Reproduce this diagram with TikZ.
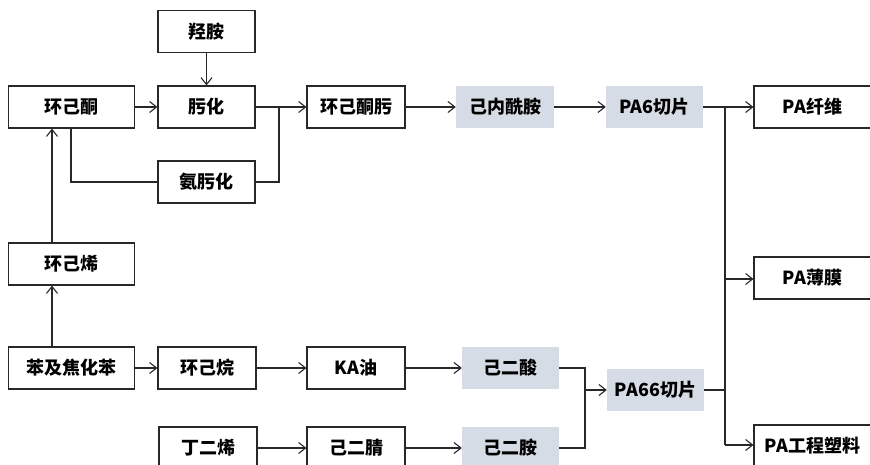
\documentclass[tikz,border=0pt]{standalone}
\usepackage{fontspec}
\newfontfamily\cjk{Noto Sans CJK SC}
\usetikzlibrary{arrows.meta}
\definecolor{boxfill}{RGB}{214,220,229}
\definecolor{linec}{RGB}{40,40,40}
\tikzset{
  bx/.style={draw=linec, line width=1.1pt, minimum height=42pt, minimum width=97pt, inner sep=0pt, font=\cjk\bfseries\fontsize{18}{18}\selectfont},
  fb/.style={fill=boxfill, minimum height=42pt, minimum width=98pt, inner sep=0pt, font=\cjk\bfseries\fontsize{18}{18}\selectfont},
  con/.style={draw=linec, line width=1.1pt},
  arr/.style={con, -{Straight Barb[length=7pt,width=11pt,line width=1.1pt]}}
}
\begin{document}
\begin{tikzpicture}[x=1pt,y=-1pt]
\useasboundingbox (0,0) rectangle (870,465);
\clip (0,0) rectangle (870,465);
\fill[white] (0,0) rectangle (870,465);
% nodes
\node[bx] (qa) at (206.5,31.5) {羟胺};
\node[bx, minimum width=125.5pt] (hjt) at (71.5,107) {环己酮};
\node[bx] (wh) at (206.5,107) {肟化};
\node[bx] (awh) at (206.5,182) {氨肟化};
\node[bx, minimum width=98pt] (hjtw) at (356,107) {环己酮肟};
\node[fb] (jnxa) at (505,107) {己内酰胺};
\node[fb, minimum width=97pt] (pa6) at (654.5,107) {PA6切片};
\node[bx, minimum width=117pt] (paxw) at (812.5,107) {PA纤维};
\node[bx, minimum width=125.5pt] (hjx) at (71.5,264) {环己烯};
\node[bx, minimum width=125.5pt] (ben) at (71.5,368) {苯及焦化苯};
\node[bx, minimum width=98pt] (hjw) at (207,368) {环己烷};
\node[bx, minimum width=98pt] (ka) at (356,368) {KA油};
\node[fb, minimum width=97pt] (jes) at (510.5,368) {己二酸};
\node[bx, minimum width=98pt] (dex) at (208,448) {丁二烯};
\node[bx, minimum width=98pt] (jej) at (356,448) {己二腈};
\node[fb, minimum width=97pt] (jea) at (510.5,448) {己二胺};
\node[fb, minimum width=97pt] (pa66) at (655.5,390) {PA66切片};
\node[bx, minimum width=117pt] (pabm) at (812.5,278) {PA薄膜};
\node[bx, minimum width=117pt] (pagc) at (812.5,446) {PA工程塑料};
% junction coordinates
\coordinate (j1) at (279,107);
\coordinate (j2) at (279,182);
\coordinate (j3) at (71,182);
\coordinate (j4) at (585,368);
\coordinate (j5) at (585,448);
\coordinate (j6) at (585,390);
\coordinate (j7) at (725,107);
\coordinate (j8) at (725,390);
\coordinate (j9) at (725,445);
\coordinate (j10) at (725,279);
% connectors
\draw[arr] (qa.south) -- (wh.north);
\draw[arr] (hjt.east) -- (wh.west);
\draw[con] (wh.east) -- (j1);
\draw[arr] (j1) -- (hjtw.west);
\draw[con] (awh.east) -- (j2) -- (j1);
\draw[con] (hjt.south -| j3) -- (j3) -- (awh.west);
\draw[arr] (hjx.north -| 52,0) -- (hjt.south -| 52,0);
\draw[arr] (ben.north -| 52,0) -- (hjx.south -| 52,0);
\draw[arr] (ben.east) -- (hjw.west);
\draw[arr] (hjw.east) -- (ka.west);
\draw[arr] (ka.east) -- (jes.west);
\draw[arr] (dex.east) -- (jej.west);
\draw[arr] (jej.east) -- (jea.west);
\draw[arr] (hjtw.east) -- (jnxa.west);
\draw[arr] (jnxa.east) -- (pa6.west);
\draw[con] (jes.east) -- (j4) -- (j5) -- (jea.east);
\draw[arr] (j6) -- (pa66.west);
\draw[con] (pa6.east) -- (j7);
\draw[arr] (j7) -- (paxw.west);
\draw[con] (pa66.east) -- (j8);
\draw[con] (j7) -- (j9);
\draw[arr] (j9) -- (pagc.west |- j9);
\draw[arr] (j10) -- (pabm.west |- j10);
\end{tikzpicture}
\end{document}
